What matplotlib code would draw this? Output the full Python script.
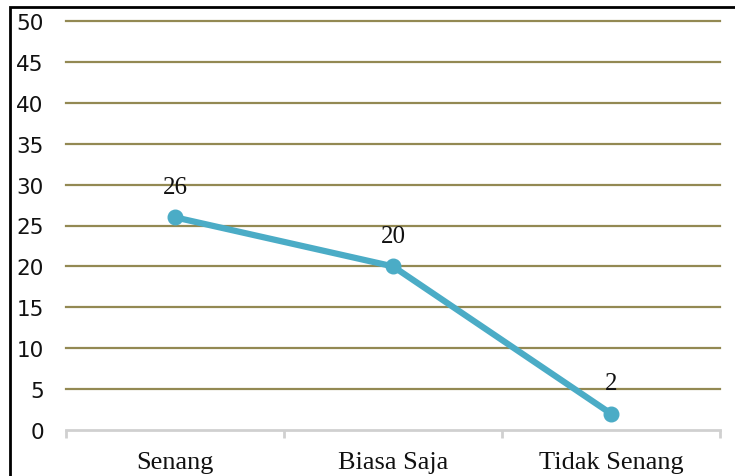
import matplotlib.pyplot as plt
from matplotlib.patches import Rectangle

categories = ["Senang", "Biasa Saja", "Tidak Senang"]
values = [26, 20, 2]
y_ticks = [0, 5, 10, 15, 20, 25, 30, 35, 40, 45, 50]

W, H = 735, 477
fig = plt.figure(figsize=(W / 100, H / 100), dpi=100)

# plot area in pixels: x 66..720, y 22..431 (top down)
left, right, top, bottom = 66, 720, 22, 431
ax = fig.add_axes([left / W, 1 - bottom / H, (right - left) / W, (bottom - top) / H])

x = list(range(len(categories)))
ax.set_xlim(-0.5, len(categories) - 0.5)
ax.set_ylim(0, 50)

grid_color = "#938953"
for t in y_ticks[1:]:
    ax.axhline(t, color=grid_color, lw=1.6, zorder=1, clip_on=False)

line_color = "#4BACC6"
ax.plot(x, values, color=line_color, lw=4.5, marker="o", markersize=10.5,
        solid_capstyle="round", zorder=3, clip_on=False)

for xi, v in zip(x, values):
    ax.annotate(str(v), (xi, v), xytext=(0, 22), textcoords="offset points",
                ha="center", va="center", fontsize=18, family="Liberation Serif",
                color="#111111")

for s in ["top", "right", "left"]:
    ax.spines[s].set_visible(False)
ax.spines["bottom"].set_color("#d0d0d0")
ax.spines["bottom"].set_linewidth(2)

ax.set_yticks(y_ticks)
ax.set_yticklabels([str(t) for t in y_ticks], fontsize=15.5, family="DejaVu Sans",
                   color="#111111")
ax.tick_params(axis="y", length=0, pad=16)

ax.set_xticks([i - 0.5 for i in range(len(categories) + 1)], minor=True)
ax.set_xticks(x)
ax.set_xticklabels(categories, fontsize=19, family="Liberation Serif", color="#111111")
ax.tick_params(axis="x", which="major", length=0, pad=15)
ax.tick_params(axis="x", which="minor", length=6, width=2, color="#d0d0d0")

# figure border
fig.patches.append(Rectangle((10 / W, -0.1), 1.2, 1 - 8 / H + 0.1,
                             transform=fig.transFigure, fill=False,
                             edgecolor="black", lw=2))

fig.savefig("out.png", dpi=100)
